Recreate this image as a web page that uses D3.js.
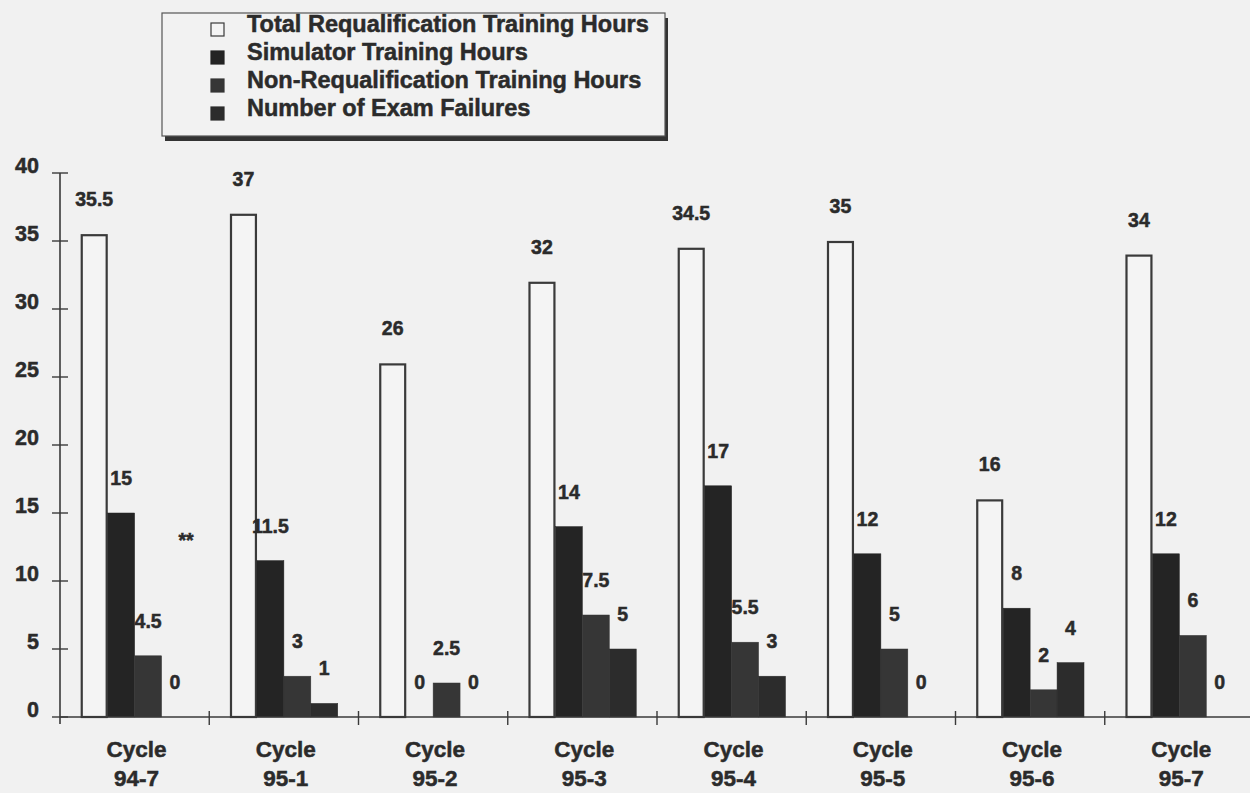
<!DOCTYPE html>
<html>
<head>
<meta charset="utf-8">
<script src="https://cdn.jsdelivr.net/npm/d3@7"></script>
<style>
  html, body { margin: 0; padding: 0; background: #f1f1f1; }
  svg { display: block; }
  text { font-family: "Liberation Sans", Arial, sans-serif; font-weight: bold; fill: #2b2b2b;
         stroke: #2b2b2b; stroke-width: 0.5; }
</style>
</head>
<body>
<svg id="chart" width="1250" height="793"></svg>
<script>
// Requalification training by cycle
const categories = ["94-7", "95-1", "95-2", "95-3", "95-4", "95-5", "95-6", "95-7"];
const categoryPrefix = "Cycle";
const totalHours = [35.5, 37, 26, 32, 34.5, 35, 16, 34];
const simulatorHours = [15, 11.5, 0, 14, 17, 12, 8, 12];
const nonRequalHours = [4.5, 3, 2.5, 7.5, 5.5, 5, 2, 6];
const examFailures = [0, 1, 0, 5, 3, 0, 4, 0];
const seriesNames = [
  "Total Requalification Training Hours",
  "Simulator Training Hours",
  "Non-Requalification Training Hours",
  "Number of Exam Failures"
];
const yTicks = [0, 5, 10, 15, 20, 25, 30, 35, 40];
const footnoteMark = "**";

const seriesValues = [totalHours, simulatorHours, nonRequalHours, examFailures];
const seriesFill = ["#f4f4f4", "#242424", "#363636", "#2c2c2c"];
const seriesStroke = ["#3a3a3a", "#242424", "#363636", "#2c2c2c"];

const svg = d3.select("#chart");

const plot = { left: 60, right: 1254, top: 173, bottom: 717 };

const x0 = d3.scaleBand()
  .domain(categories)
  .range([plot.left, plot.right])
  .paddingInner(0).paddingOuter(0);

const x1 = d3.scaleBand()
  .domain(d3.range(seriesNames.length))
  .range([0, x0.bandwidth()])
  .paddingInner(0)
  .paddingOuter(0.77);

const y = d3.scaleLinear().domain([0, 40]).range([plot.bottom, plot.top]);

// bars
const groups = svg.append("g").selectAll("g")
  .data(categories)
  .join("g")
  .attr("transform", d => `translate(${x0(d)},0)`);

groups.each(function (cat, ci) {
  const g = d3.select(this);
  seriesValues.forEach((vals, si) => {
    const v = vals[ci];
    const bx = x1(si), bw = x1.bandwidth();
    if (v > 0) {
      g.append("rect")
        .attr("x", si === 0 ? bx + 1 : bx)
        .attr("y", y(v) + (si === 0 ? 1 : 0))
        .attr("width", si === 0 ? bw - 2 : bw)
        .attr("height", y(0) - y(v) - (si === 0 ? 1 : 0))
        .attr("fill", seriesFill[si])
        .attr("stroke", seriesStroke[si])
        .attr("stroke-width", si === 0 ? 2.2 : 0.5);
    }
    g.append("text")
      .attr("x", bx + bw / 2)
      .attr("y", y(v) - 35)
      .attr("dominant-baseline", "central")
      .attr("text-anchor", "middle")
      .attr("font-size", 19.5)
      .text(v);
  });
});

// footnote marker next to the first cycle
svg.append("text")
  .attr("x", x0(categories[0]) + x1(3) + x1.bandwidth() / 2 + 11)
  .attr("y", y(13))
  .attr("dominant-baseline", "central")
  .attr("text-anchor", "middle")
  .attr("font-size", 19.5)
  .text(footnoteMark);

// y axis
const axisColor = "#3a3a3a";
svg.append("line")
  .attr("x1", plot.left).attr("x2", plot.left)
  .attr("y1", y(40)).attr("y2", y(0) + 7)
  .attr("stroke", axisColor).attr("stroke-width", 1.6);

const yAxis = svg.append("g");
yAxis.selectAll("line")
  .data(yTicks)
  .join("line")
  .attr("x1", plot.left - 8).attr("x2", plot.left + 8)
  .attr("y1", d => y(d)).attr("y2", d => y(d))
  .attr("stroke", axisColor).attr("stroke-width", 1.4);
yAxis.selectAll("text")
  .data(yTicks)
  .join("text")
  .attr("x", 39)
  .attr("y", d => y(d) - 7)
  .attr("dominant-baseline", "central")
  .attr("text-anchor", "end")
  .attr("font-size", 21.5)
  .text(d => d);

// x axis
svg.append("line")
  .attr("x1", plot.left).attr("x2", 1250)
  .attr("y1", y(0)).attr("y2", y(0))
  .attr("stroke", axisColor).attr("stroke-width", 1.6);

svg.append("g").selectAll("line")
  .data(categories.slice(1))
  .join("line")
  .attr("x1", d => x0(d)).attr("x2", d => x0(d))
  .attr("y1", y(0) - 6).attr("y2", y(0) + 8)
  .attr("stroke", axisColor).attr("stroke-width", 1.4);

const xl = svg.append("g").selectAll("text")
  .data(categories)
  .join("text")
  .attr("text-anchor", "middle")
  .attr("font-size", 22.5);
xl.append("tspan")
  .attr("x", d => x0(d) + x0.bandwidth() / 2 + 2)
  .attr("y", 757)
  .text(categoryPrefix);
xl.append("tspan")
  .attr("x", d => x0(d) + x0.bandwidth() / 2 + 2)
  .attr("y", 786)
  .text(d => d);

// legend
const legend = { x: 162, y: 13, w: 503, h: 123 };
svg.append("rect")
  .attr("x", legend.x + 3).attr("y", legend.y + 5)
  .attr("width", legend.w).attr("height", legend.h)
  .attr("fill", "#333");
svg.append("rect")
  .attr("x", legend.x).attr("y", legend.y)
  .attr("width", legend.w).attr("height", legend.h)
  .attr("fill", "#f2f2f2")
  .attr("stroke", "#555").attr("stroke-width", 1.2);

const items = svg.append("g").selectAll("g")
  .data(seriesNames)
  .join("g")
  .attr("transform", (d, i) => `translate(0,${24 + i * 28})`);
items.append("rect")
  .attr("x", 211).attr("y", -1)
  .attr("width", 13).attr("height", 13)
  .attr("fill", (d, i) => seriesFill[i])
  .attr("stroke", (d, i) => i === 0 ? "#3a3a3a" : seriesFill[i])
  .attr("stroke-width", 1.2);
items.append("text")
  .attr("x", 247)
  .attr("y", 0)
  .attr("dominant-baseline", "central")
  .attr("font-size", 23.5)
  .text(d => d);
</script>
</body>
</html>
